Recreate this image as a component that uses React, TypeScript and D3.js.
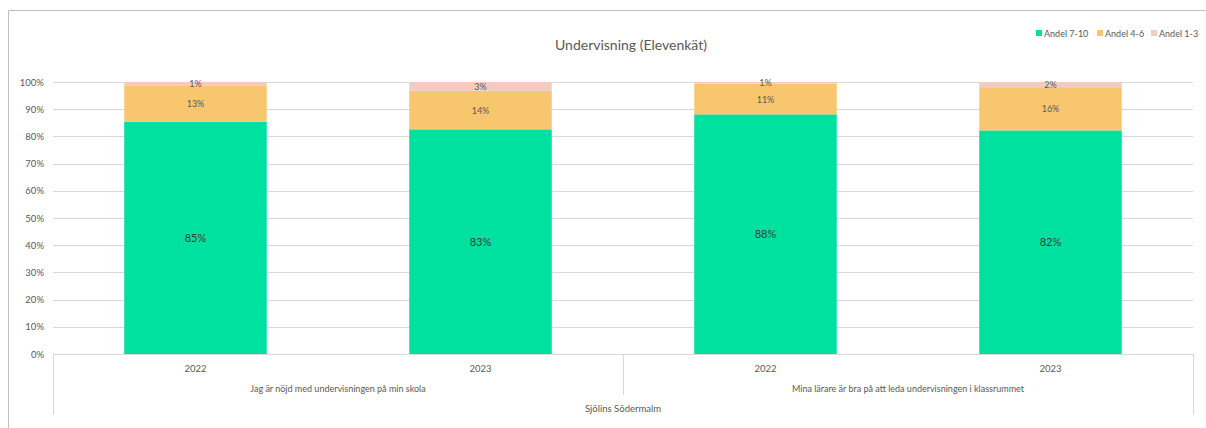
import React from "react";
import * as d3 from "d3";

const title = "Undervisning (Elevenkät)";
const groupLabel = "Sjölins Södermalm";
const questions = [
  "Jag är nöjd med undervisningen på min skola",
  "Mina lärare är bra på att leda undervisningen i klassrummet",
];
const years = ["2022", "2023", "2022", "2023"];
const seriesNames = ["Andel 7-10", "Andel 4-6", "Andel 1-3"];
const seriesColors = ["#00E09E", "#F8C66F", "#F3CBC3"];
const andel710 = [0.854, 0.826, 0.881, 0.822];
const andel46 = [0.134, 0.142, 0.113, 0.159];
const andel13 = [0.012, 0.032, 0.006, 0.019];
const yTicks = [0, 0.1, 0.2, 0.3, 0.4, 0.5, 0.6, 0.7, 0.8, 0.9, 1.0];

const W = 1206;
const H = 428;
const FONT = "Lato, 'Open Sans', sans-serif";
const TXT = "#595959";

export default function App() {
  const left = 53;
  const right = 1193;
  const top = 82;
  const bottom = 354;
  const y = d3.scaleLinear().domain([0, 1]).range([bottom, top]);
  const idx = years.map((_, i) => i);
  const x = d3
    .scaleBand<number>()
    .domain(idx)
    .range([left, right])
    .paddingInner(0.5)
    .paddingOuter(0.25);
  const series = [andel710, andel46, andel13];
  const rows = idx.map((i) => ({ i, s0: andel710[i], s1: andel46[i], s2: andel13[i] }));
  const stack = d3.stack<any>().keys(["s0", "s1", "s2"])(rows);
  const fmt = d3.format(".0%");
  const step = (right - left) / years.length;
  const gridColor = "#D9D9D9";

  const legendItems = [{ x: 1036 }, { x: 1097 }, { x: 1151 }];

  return (
    <svg
      width={W}
      height={H}
      style={{ position: "absolute", left: 0, top: 0, background: "#fff" }}
      fontFamily={FONT}
    >
      <rect x={0} y={0} width={W} height={H} fill="#fff" />
      <line x1={8.5} y1={10.5} x2={W} y2={10.5} stroke="#BFBFBF" />
      <line x1={8.5} y1={10.5} x2={8.5} y2={H} stroke="#BFBFBF" />
      <text x={631} y={50} textAnchor="middle" fontSize={14} fill={TXT}>
        {title}
      </text>
      {legendItems.map((l, k) => (
        <g key={k}>
          <rect x={l.x} y={30} width={6} height={6} fill={seriesColors[k]} />
          <text x={l.x + 8} y={36.5} fontSize={9} fill={TXT}>
            {seriesNames[k]}
          </text>
        </g>
      ))}
      {yTicks.map((t) => (
        <g key={t}>
          <line
            x1={left}
            x2={right}
            y1={Math.round(y(t)) + 0.5}
            y2={Math.round(y(t)) + 0.5}
            stroke={gridColor}
          />
          <text x={44} y={y(t) + 3.5} textAnchor="end" fontSize={9.5} fill={TXT}>
            {fmt(t)}
          </text>
        </g>
      ))}
      {stack.map((layer, k) =>
        layer.map((d, i) => {
          const bx = x(i)!;
          const bw = x.bandwidth();
          const y0 = y(d[0]);
          const y1 = y(d[1]);
          const v = series[k][i];
          return (
            <g key={`${k}-${i}`}>
              <rect x={bx} y={y1} width={bw} height={y0 - y1} fill={seriesColors[k]} />
              <text
                x={bx + bw / 2}
                y={(y0 + y1) / 2 + (k === 0 ? 4 : 3.5)}
                textAnchor="middle"
                fontSize={k === 0 ? 11 : 9}
                fill={k === 0 ? "#3a3a3a" : TXT}
              >
                {fmt(v)}
              </text>
            </g>
          );
        })
      )}
      <line x1={left} x2={right} y1={bottom + 0.5} y2={bottom + 0.5} stroke={gridColor} />
      <line x1={left + 0.5} x2={left + 0.5} y1={bottom} y2={415} stroke={gridColor} />
      <line x1={right + 0.5} x2={right + 0.5} y1={bottom} y2={415} stroke={gridColor} />
      <line
        x1={left + step * 2 + 0.5}
        x2={left + step * 2 + 0.5}
        y1={bottom}
        y2={395}
        stroke={gridColor}
      />
      {years.map((yr, i) => (
        <text
          key={i}
          x={x(i)! + x.bandwidth() / 2}
          y={372}
          textAnchor="middle"
          fontSize={9.5}
          fill={TXT}
        >
          {yr}
        </text>
      ))}
      {questions.map((q, j) => (
        <text
          key={j}
          x={left + step * (2 * j + 1)}
          y={392}
          textAnchor="middle"
          fontSize={9}
          fill={TXT}
        >
          {q}
        </text>
      ))}
      <text x={(left + right) / 2} y={412} textAnchor="middle" fontSize={9.5} fill={TXT}>
        {groupLabel}
      </text>
    </svg>
  );
}
